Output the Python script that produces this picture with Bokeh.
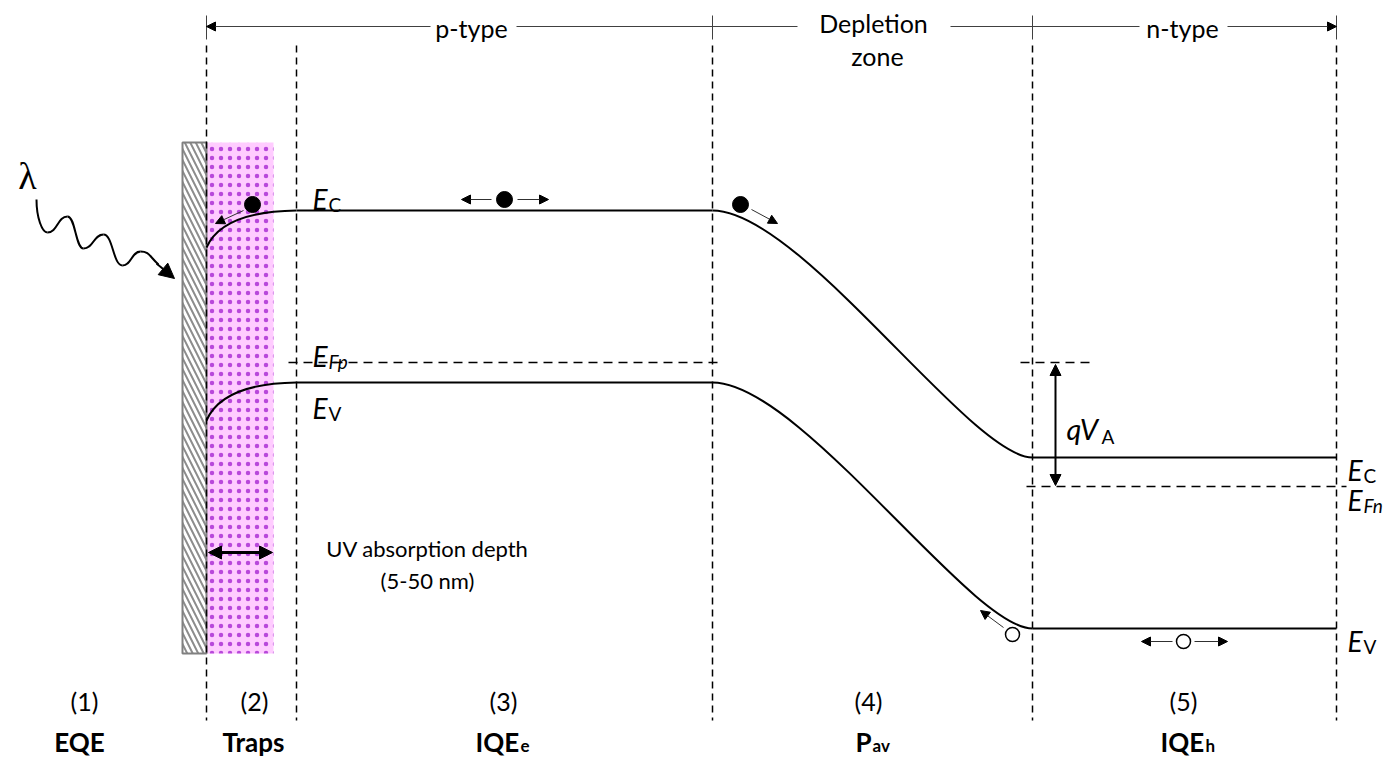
from bokeh.plotting import figure
from bokeh.models import Range1d, Arrow, NormalHead
from bokeh.core.properties import value
from bokeh.embed import file_html
from bokeh.resources import INLINE

FONT = "Lato"
SERIF = "Liberation Serif"

# ---------------- data (page pixel coordinates, y measured from top) ----------------
boundary_x = [206, 296, 712, 1032, 1336]
boundary_top = 45
boundary_bottom = 720

band_names = ["EC", "EV"]
surface_level = [247, 420]      # band edge at the surface (x = 206)
p_level = [210, 382]            # flat band in p-type region
n_level = [457, 628]            # flat band in n-type region
fermi_p = 362
fermi_n = 486

region_numbers = ["(1)", "(2)", "(3)", "(4)", "(5)"]
region_num_x = [84, 254, 503, 868, 1183]
plain_names = ["EQE", "Traps"]
plain_name_x = [79, 253]
sub_names = ["IQE", "P", "IQE"]
sub_name_x = [475, 855, 1160]
sub_name_width = [45, 17, 45]
sub_texts = ["e", "av", "h"]

top_labels = ["p-type", "Depletion", "zone", "n-type"]
top_label_x = [471, 873, 877, 1182]
top_label_y = [27, 22, 55, 27]

electron_x = [252, 504, 740]
electron_y = [204, 199, 204]
hole_x = [1012, 1183]
hole_y = [634, 641]
carrier_arrow_x0 = [243, 491, 517, 751, 1003, 1172, 1194]
carrier_arrow_y0 = [210, 199, 199, 209, 627, 641, 641]
carrier_arrow_x1 = [215, 461, 548, 777, 980, 1141, 1227]
carrier_arrow_y1 = [223, 199, 199, 223, 610, 641, 641]

wave_x = [36, 47, 67, 83, 103, 122, 140, 158]
wave_y = [199, 232, 216, 248, 234, 265, 251, 264]

# ---------------- figure ----------------
W, H = 1395, 757
p = figure(width=W, height=H, output_backend="svg", toolbar_location=None,
           x_range=Range1d(0, W), y_range=Range1d(H, 0), min_border=0)
p.axis.visible = False
p.grid.visible = False
p.outline_line_color = None
p.background_fill_color = "white"
p.border_fill_color = "white"

# pink absorption layer with dots
p.quad(left=[206], right=[273], top=[142], bottom=[653], fill_color="#ffccff",
       line_color=None, hatch_pattern=".", hatch_color="#9a10cc", hatch_scale=9,
       hatch_weight=0.5, hatch_alpha=0.7)
# hatched contact
p.quad(left=[182], right=[206], top=[142], bottom=[653], fill_color="white",
       line_color="#808080", line_width=2, hatch_pattern="\\", hatch_color="#8c8c8c",
       hatch_scale=11, hatch_weight=2)

# vertical dashed region boundaries
p.segment(x0=boundary_x, y0=[boundary_top] * 5, x1=boundary_x, y1=[boundary_bottom] * 5,
          line_color="black", line_width=1.5, line_dash="7 5")

# bands
for i in range(2):
    p.quadratic(x0=[boundary_x[0]], y0=[surface_level[i]], x1=[boundary_x[1]], y1=[p_level[i]],
                cx=[222], cy=[p_level[i] + 1], line_color="black", line_width=2)
    p.segment(x0=[boundary_x[1]], y0=[p_level[i]], x1=[boundary_x[2]], y1=[p_level[i]],
              line_color="black", line_width=2)
    p.bezier(x0=[boundary_x[2]], y0=[p_level[i]], x1=[boundary_x[3]], y1=[n_level[i]],
             cx0=[800], cy0=[p_level[i]], cx1=[970], cy1=[n_level[i]],
             line_color="black", line_width=2)
    p.segment(x0=[boundary_x[3]], y0=[n_level[i]], x1=[boundary_x[4]], y1=[n_level[i]],
              line_color="black", line_width=2)

# quasi Fermi levels
p.segment(x0=[288, 1026, 1020], y0=[fermi_p, fermi_n, fermi_p],
          x1=[722, 1346, 1095], y1=[fermi_p, fermi_n, fermi_p],
          line_color="black", line_width=1.5, line_dash="9 6")

# qV_A double arrow
p.add_layout(Arrow(x_start=1055, y_start=fermi_p + 2, x_end=1055, y_end=fermi_n - 1,
                   line_width=2, line_color="black",
                   start=NormalHead(size=11, fill_color="black", line_color="black"),
                   end=NormalHead(size=11, fill_color="black", line_color="black")))

# UV absorption depth double arrow
p.add_layout(Arrow(x_start=208, y_start=552, x_end=272, y_end=552,
                   line_width=3, line_color="black",
                   start=NormalHead(size=13, fill_color="black", line_color="black"),
                   end=NormalHead(size=13, fill_color="black", line_color="black")))

# top region arrows
top_y = 26
p.segment(x0=[516, 712, 950, 1032], y0=[top_y] * 4, x1=[712, 797, 1032, 1139], y1=[top_y] * 4,
          line_color="#404040", line_width=1)
p.add_layout(Arrow(x_start=430, y_start=top_y, x_end=206, y_end=top_y, line_color="#404040",
                   line_width=1, end=NormalHead(size=9, fill_color="black", line_color="black")))
p.add_layout(Arrow(x_start=1227, y_start=top_y, x_end=1336, y_end=top_y, line_color="#404040",
                   line_width=1, end=NormalHead(size=9, fill_color="black", line_color="black")))
tick_x = [boundary_x[0], boundary_x[2], boundary_x[3], boundary_x[4]]
p.segment(x0=tick_x, y0=[15] * 4, x1=tick_x, y1=[39] * 4, line_color="#404040", line_width=1)

# carriers
for xs, ys, xe, ye in zip(carrier_arrow_x0, carrier_arrow_y0, carrier_arrow_x1, carrier_arrow_y1):
    p.add_layout(Arrow(x_start=xs, y_start=ys, x_end=xe, y_end=ye, line_color="#303030",
                       line_width=1, end=NormalHead(size=9, fill_color="black", line_color="black")))
p.scatter(x=electron_x, y=electron_y, size=16, fill_color="black", line_color="black")
p.scatter(x=hole_x, y=hole_y, size=14, fill_color="white", line_color="black", line_width=1.5)

# incoming photon (wavy arrow)
n_seg = len(wave_x) - 1
bx0, by0, bx1, by1, bcx0, bcy0, bcx1, bcy1 = [], [], [], [], [], [], [], []
for i in range(n_seg):
    dx = wave_x[i + 1] - wave_x[i]
    bx0.append(wave_x[i]); by0.append(wave_y[i])
    bx1.append(wave_x[i + 1]); by1.append(wave_y[i + 1])
    if i == 0:
        bcx0.append(wave_x[i]); bcy0.append(wave_y[i] + 18)
    else:
        bcx0.append(wave_x[i] + dx * 0.5); bcy0.append(wave_y[i])
    if i == n_seg - 1:
        bcx1.append(wave_x[i + 1] - dx * 0.5); bcy1.append(wave_y[i + 1] - 8)
    else:
        bcx1.append(wave_x[i + 1] - dx * 0.5); bcy1.append(wave_y[i + 1])
p.bezier(x0=bx0, y0=by0, x1=bx1, y1=by1, cx0=bcx0, cy0=bcy0, cx1=bcx1, cy1=bcy1,
         line_color="black", line_width=2)
p.add_layout(Arrow(x_start=wave_x[-1] - 2, y_start=wave_y[-1] - 1, x_end=174, y_end=278,
                   line_color="black", line_width=2,
                   end=NormalHead(size=15, fill_color="black", line_color="black")))
p.text(x=[27], y=[175], text=["λ"], text_font=value(SERIF), text_font_size="38px",
       text_align="center", text_baseline="middle", text_color="black")

# top labels
p.text(x=top_label_x, y=top_label_y, text=top_labels, text_font=value(FONT),
       text_font_size="25px", text_align="center", text_baseline="middle", text_color="black")

# region numbers and names
p.text(x=region_num_x, y=[700] * 5, text=region_numbers, text_font=value(FONT),
       text_font_size="25px", text_align="center", text_baseline="middle", text_color="black")
p.text(x=plain_name_x, y=[741] * 2, text=plain_names, text_font=value(FONT),
       text_font_size="26px", text_font_style="bold", text_align="center",
       text_baseline="alphabetic", text_color="black")
p.text(x=sub_name_x, y=[741] * 3, text=sub_names, text_font=value(FONT),
       text_font_size="26px", text_font_style="bold", text_align="left",
       text_baseline="alphabetic", text_color="black")
p.text(x=[a + b for a, b in zip(sub_name_x, sub_name_width)], y=[745] * 3, text=sub_texts,
       text_font=value(FONT), text_font_size="17px", text_font_style="bold",
       text_align="left", text_baseline="alphabetic", text_color="black")

# energy level labels: E + subscript
e_label_x = [312, 312, 312, 1347, 1347, 1347]
e_label_y = [198, 355, 407, 469, 499, 640]
e_subs = ["C", "Fp", "V", "C", "Fn", "V"]
e_sub_italic = [False, True, False, False, True, False]
p.text(x=e_label_x, y=e_label_y, text=["E"] * 6, text_font=value(FONT), text_font_size="28px",
       text_font_style="italic", text_align="left", text_baseline="alphabetic",
       text_color="black")
for xx, yy, s, it in zip(e_label_x, e_label_y, e_subs, e_sub_italic):
    p.text(x=[xx + 16], y=[yy + 6], text=[s], text_font=value(FONT), text_font_size="19px",
           text_font_style="italic" if it else "normal", text_align="left",
           text_baseline="alphabetic", text_color="black")

# qV_A
p.text(x=[1066], y=[428], text=["qV"], text_font=value(FONT), text_font_size="29px",
       text_font_style="italic", text_align="left", text_baseline="alphabetic",
       text_color="black")
p.text(x=[1101], y=[436], text=["A"], text_font=value(FONT), text_font_size="19px",
       text_align="left", text_baseline="alphabetic", text_color="black")

# UV absorption depth text
p.text(x=[427, 427], y=[548, 580], text=["UV absorption depth", "(5-50 nm)"],
       text_font=value(FONT), text_font_size="22px", text_align="center",
       text_baseline="middle", text_color="black")

open("out.html", "w").write(file_html(p, INLINE))
